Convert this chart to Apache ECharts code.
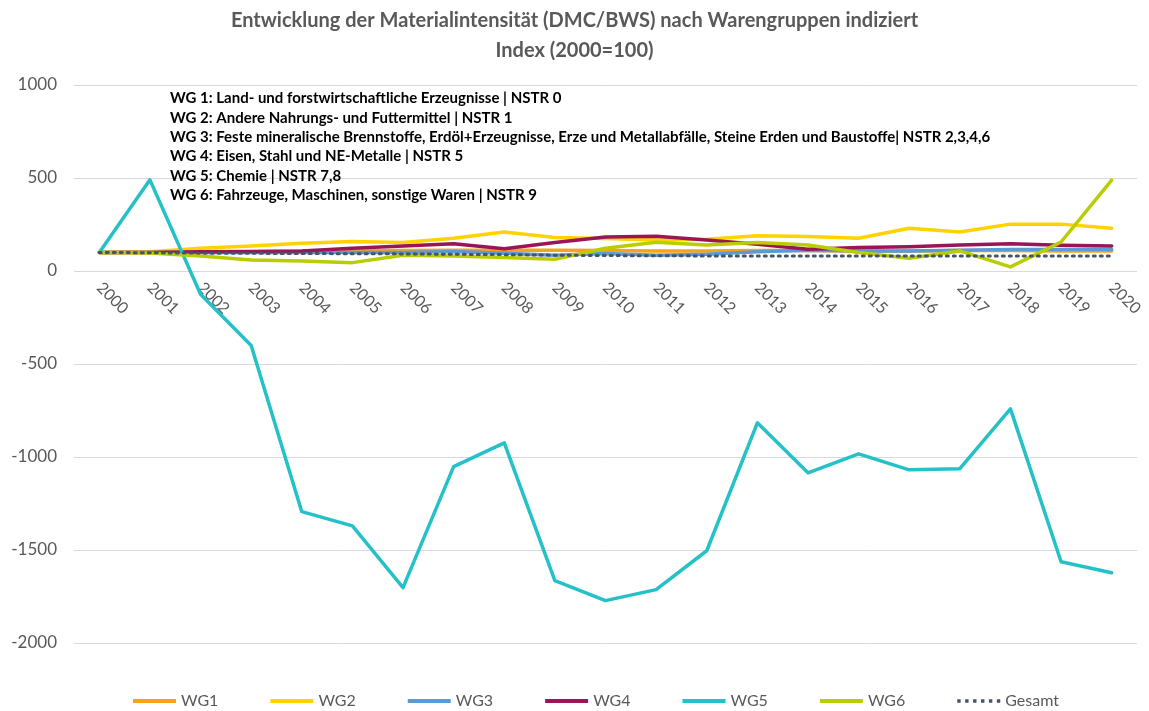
<!DOCTYPE html>
<html>
<head>
<meta charset="utf-8">
<script src="https://cdn.jsdelivr.net/npm/echarts@6/dist/echarts.min.js"></script>
<style>
    html, body { margin: 0; padding: 0; background: #fff; }
    #chart { width: 1149px; height: 711px; }
</style>
</head>
<body>
<div id="chart"></div>
<script>
// Data
const years = ['2000', '2001', '2002', '2003', '2004', '2005', '2006', '2007', '2008', '2009', '2010',
    '2011', '2012', '2013', '2014', '2015', '2016', '2017', '2018', '2019', '2020'];

const wg1 = [100, 100, 102, 104, 106, 108, 110, 112, 112, 112, 110, 108, 108, 110, 110, 108, 108, 110, 110, 108, 108];
const wg2 = [100, 104, 122, 135, 149, 158, 153, 176, 210, 180, 175, 167, 171, 190, 185, 176, 230, 210, 252, 252, 230];
const wg3 = [100, 100, 100, 100, 100, 99, 100, 105, 95, 85, 94, 85, 90, 104, 112, 108, 108, 112, 115, 115, 115];
const wg4 = [100, 100, 103, 105, 108, 122, 135, 147, 120, 153, 183, 187, 167, 144, 117, 126, 131, 140, 147, 138, 135];
const wg5 = [100, 490, -125, -400, -1294, -1370, -1702, -1052, -924, -1665, -1772, -1713, -1504, -816, -1085, -983, -1069, -1063, -741, -1563, -1622];
const wg6 = [100, 97, 81, 59, 54, 45, 85, 81, 72, 63, 122, 155, 140, 153, 140, 99, 68, 108, 22, 156, 489];
const gesamt = [100, 98, 96, 95, 94, 93, 92, 90, 88, 85, 83, 82, 81, 81, 81, 81, 80, 80, 80, 80, 80];

const yTicks = [-2000, -1500, -1000, -500, 0, 500, 1000];

const notes = [
    'WG 1: Land- und forstwirtschaftliche Erzeugnisse | NSTR 0',
    'WG 2: Andere Nahrungs- und Futtermittel | NSTR 1',
    'WG 3: Feste mineralische Brennstoffe, Erdöl+Erzeugnisse, Erze und Metallabfälle, Steine Erden und Baustoffe| NSTR 2,3,4,6',
    'WG 4: Eisen, Stahl und NE-Metalle | NSTR 5',
    'WG 5: Chemie | NSTR 7,8',
    'WG 6: Fahrzeuge, Maschinen, sonstige Waren | NSTR 9'
];

const FONT = 'Lato, "Open Sans", sans-serif';
const GREY = '#595959';

function lineSeries(name, data, color) {
    return {
        name: name,
        type: 'line',
        data: data,
        symbol: 'none',
        smooth: false,
        lineStyle: { color: color, width: 3.5, cap: 'round', join: 'round' },
        itemStyle: { color: color }
    };
}

const chart = echarts.init(document.getElementById('chart'));

const option = {
    backgroundColor: '#fff',
    animation: false,
    textStyle: { fontFamily: FONT },
    title: {
        text: 'Entwicklung der Materialintensität (DMC/BWS) nach Warengruppen indiziert\nIndex (2000=100)',
        left: 'center',
        top: 1,
        textStyle: {
            fontFamily: FONT,
            fontSize: 20,
            fontWeight: 'bold',
            color: GREY,
            lineHeight: 30
        }
    },
    grid: {
        left: 74,
        right: 12,
        top: 85,
        bottom: 68,
        containLabel: false
    },
    legend: {
        bottom: -3,
        left: 128,
        itemWidth: 43,
        itemHeight: 4,
        itemGap: 52,
        icon: 'rect',
        textStyle: { fontFamily: FONT, fontSize: 16, color: GREY },
        data: ['WG1', 'WG2', 'WG3', 'WG4', 'WG5', 'WG6',
            { name: 'Gesamt', icon: 'path://M0,0 L3,0 L3,3 L0,3 Z M7,0 L10,0 L10,3 L7,3 Z M14,0 L17,0 L17,3 L14,3 Z M21,0 L24,0 L24,3 L21,3 Z M28,0 L31,0 L31,3 L28,3 Z M35,0 L38,0 L38,3 L35,3 Z' }]
    },
    xAxis: {
        type: 'category',
        data: years,
        boundaryGap: true,
        // put the axis (and its labels) on the zero line like the original
        offset: -372,
        axisLine: { show: false, onZero: false },
        axisTick: { show: false },
        axisLabel: {
            rotate: -45,
            margin: 14,
            fontSize: 16,
            color: GREY,
            fontFamily: FONT
        },
        splitLine: { show: false }
    },
    yAxis: {
        type: 'value',
        min: yTicks[0],
        max: yTicks[yTicks.length - 1],
        interval: 500,
        axisLine: { show: false },
        axisTick: { show: false },
        axisLabel: {
            fontSize: 17,
            color: GREY,
            margin: 17,
            fontFamily: FONT,
            formatter: function (v) { return String(v); }
        },
        splitLine: { lineStyle: { color: '#d9d9d9', width: 1 } }
    },
    graphic: [{
        type: 'text',
        left: 170,
        top: 89,
        style: {
            text: notes.join('\n'),
            font: 'bold 15px ' + FONT,
            lineHeight: 19.3,
            fill: '#000'
        },
        z: 10
    }],
    series: [
        lineSeries('WG1', wg1, '#F7A21B'),
        lineSeries('WG2', wg2, '#FFD200'),
        lineSeries('WG3', wg3, '#5B9BD5'),
        lineSeries('WG4', wg4, '#9A1458'),
        lineSeries('WG5', wg5, '#25C1C9'),
        lineSeries('WG6', wg6, '#B8CE00'),
        {
            name: 'Gesamt',
            type: 'line',
            data: gesamt,
            symbol: 'none',
            lineStyle: { color: '#44546A', width: 3, type: [2, 5], cap: 'round' },
            itemStyle: { color: '#44546A' }
        }
    ]
};

chart.setOption(option);
</script>
</body>
</html>
